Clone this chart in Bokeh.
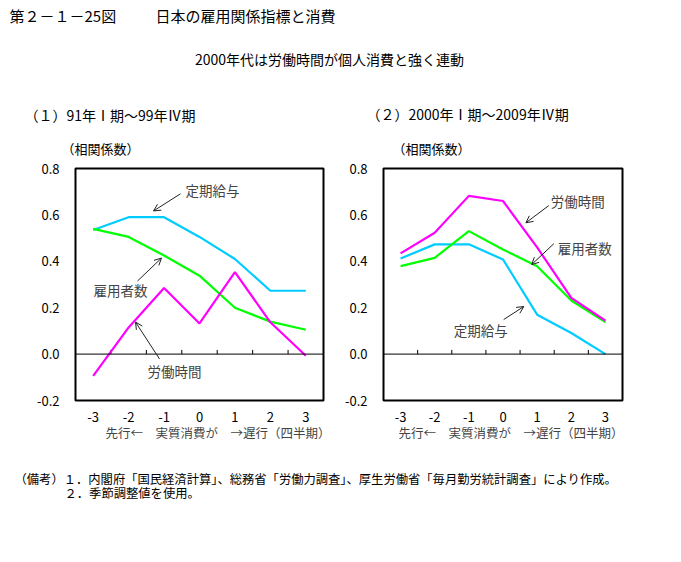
from bokeh.plotting import figure
from bokeh.models import (Range1d, FactorRange, FixedTicker, PrintfTickFormatter,
                          Span, Label, Arrow, OpenHead, Title)
from bokeh.layouts import column, row
from bokeh.embed import file_html
from bokeh.resources import INLINE

FONT = "Noto Sans CJK JP"

# ---------------- data ----------------
cats = ["-3", "-2", "-1", "0", "1", "2", "3"]
y_ticks = [-0.2, 0.0, 0.2, 0.4, 0.6, 0.8]

# (1) 91年I期~99年IV期
p1_wage = [0.535, 0.59, 0.59, 0.505, 0.41, 0.273, 0.273]     # 定期給与
p1_emp = [0.54, 0.505, 0.425, 0.338, 0.20, 0.14, 0.105]      # 雇用者数
p1_hours = [-0.094, 0.115, 0.285, 0.132, 0.353, 0.137, -0.007]  # 労働時間

# (2) 2000年I期~2009年IV期
p2_hours = [0.434, 0.523, 0.682, 0.66, 0.46, 0.242, 0.144]
p2_emp = [0.379, 0.415, 0.53, 0.451, 0.379, 0.231, 0.138]
p2_wage = [0.412, 0.473, 0.473, 0.408, 0.17, 0.091, 0.0]

series_names = ["定期給与", "雇用者数", "労働時間"]
colors = {"定期給与": "#00CCFF", "雇用者数": "#00FF00", "労働時間": "#FF00FF"}

title_left = "第２－１－25図"
title_right = "日本の雇用関係指標と消費"
subtitle = "2000年代は労働時間が個人消費と強く連動"
panel1_title = "（１）91年Ⅰ期～99年Ⅳ期"
panel2_title = "（２）2000年Ⅰ期～2009年Ⅳ期"
y_unit = "（相関係数）"
x_label = "先行←　実質消費が　→遅行（四半期）"
note1 = "（備考）１．内閣府「国民経済計算」、総務省「労働力調査」、厚生労働省「毎月勤労統計調査」により作成。"
note2 = "２．季節調整値を使用。"


def canvas(w, h):
    p = figure(width=w, height=h, x_range=Range1d(0, w), y_range=Range1d(h, 0),
               x_axis_location=None, y_axis_location=None, toolbar_location=None,
               output_backend="svg", min_border=0)
    p.grid.visible = False
    p.outline_line_color = None
    return p


def txt(p, x, y, s, size, align="left"):
    p.add_layout(Label(x=x, y=y, text=s, text_font=FONT, text_font_size=size,
                       text_align=align, text_baseline="middle", text_color="black"))


# ---------------- header ----------------
head = canvas(681, 160)
txt(head, 9, 15, title_left, "15px")
txt(head, 155, 15, title_right, "15px")
txt(head, 329, 58, subtitle, "14px", "center")
txt(head, 24, 114, panel1_title, "14px")
txt(head, 366, 113, panel2_title, "14px")
txt(head, 61, 148, y_unit, "13px")
txt(head, 392, 148, y_unit, "13px")


def panel(width, left, frame_w, title_offset, data, notes):
    p = figure(width=width, height=290, x_range=FactorRange(factors=cats),
               y_range=Range1d(-0.2, 0.8), toolbar_location=None, output_backend="svg",
               min_border_left=left, min_border_right=width - left - frame_w,
               min_border_top=8, min_border_bottom=50)
    p.grid.visible = False
    p.outline_line_color = "black"
    p.outline_line_width = 2
    p.background_fill_color = "white"
    for ax in (p.xaxis, p.yaxis):
        ax.axis_line_color = None
        ax.major_tick_line_color = None
        ax.minor_tick_line_color = None
        ax.major_label_text_font = FONT
        ax.major_label_text_font_size = "13px"
        ax.major_label_text_color = "black"
    p.yaxis.ticker = FixedTicker(ticks=y_ticks)
    p.yaxis.formatter = PrintfTickFormatter(format="%.1f")
    p.yaxis.major_label_standoff = 10
    p.xaxis.major_label_standoff = 5
    p.xaxis.group_text_font_size = "0px"

    p.add_layout(Title(text=x_label, align="left", offset=title_offset, standoff=-7,
                       text_font=FONT, text_font_size="12.5px", text_font_style="normal"),
                 "below")

    p.add_layout(Span(location=0, dimension="width", line_color="black", line_width=1))
    bounds = list(range(1, len(cats)))
    p.segment(x0=bounds, y0=[0] * len(bounds), x1=bounds, y1=[0.018] * len(bounds),
              line_color="black", line_width=1)

    for name in series_names:
        p.line(x=cats, y=data[name], line_color=colors[name], line_width=2.2)

    for (tx, ty, ax0, ay0, ax1, ay1, s) in notes:
        p.add_layout(Arrow(end=OpenHead(size=7, line_width=1, line_color="#222222"),
                           x_start=ax0, y_start=ay0, x_end=ax1, y_end=ay1,
                           line_color="#222222", line_width=1))
        p.add_layout(Label(x=tx, y=ty, text=s, text_font=FONT, text_font_size="13.5px",
                           text_align="left", text_baseline="middle"))
    return p


p1 = panel(340, 75, 248, 30,
           {"定期給与": p1_wage, "雇用者数": p1_emp, "労働時間": p1_hours},
           [(3.105, 0.708, 2.964, 0.691, 2.202, 0.617, "定期給与"),
            (0.508, 0.276, 1.75, 0.315, 2.427, 0.414, "雇用者数"),
            (2.032, -0.073, 2.371, -0.021, 1.694, 0.138, "労働時間")])

p2 = panel(341, 43, 239, 15,
           {"定期給与": p2_wage, "雇用者数": p2_emp, "労働時間": p2_hours},
           [(4.90, 0.662, 4.84, 0.64, 4.17, 0.566, "労働時間"),
            (5.105, 0.459, 4.99, 0.476, 4.34, 0.386, "雇用者数"),
            (2.06, 0.102, 3.52, 0.149, 4.11, 0.205, "定期給与")])

# ---------------- footer ----------------
foot = canvas(681, 112)
txt(foot, 14, 28, note1, "12.3px")
txt(foot, 64, 42, note2, "12.3px")

layout = column(head, row(p1, p2), foot)
open("out.html", "w").write(file_html(layout, INLINE))
